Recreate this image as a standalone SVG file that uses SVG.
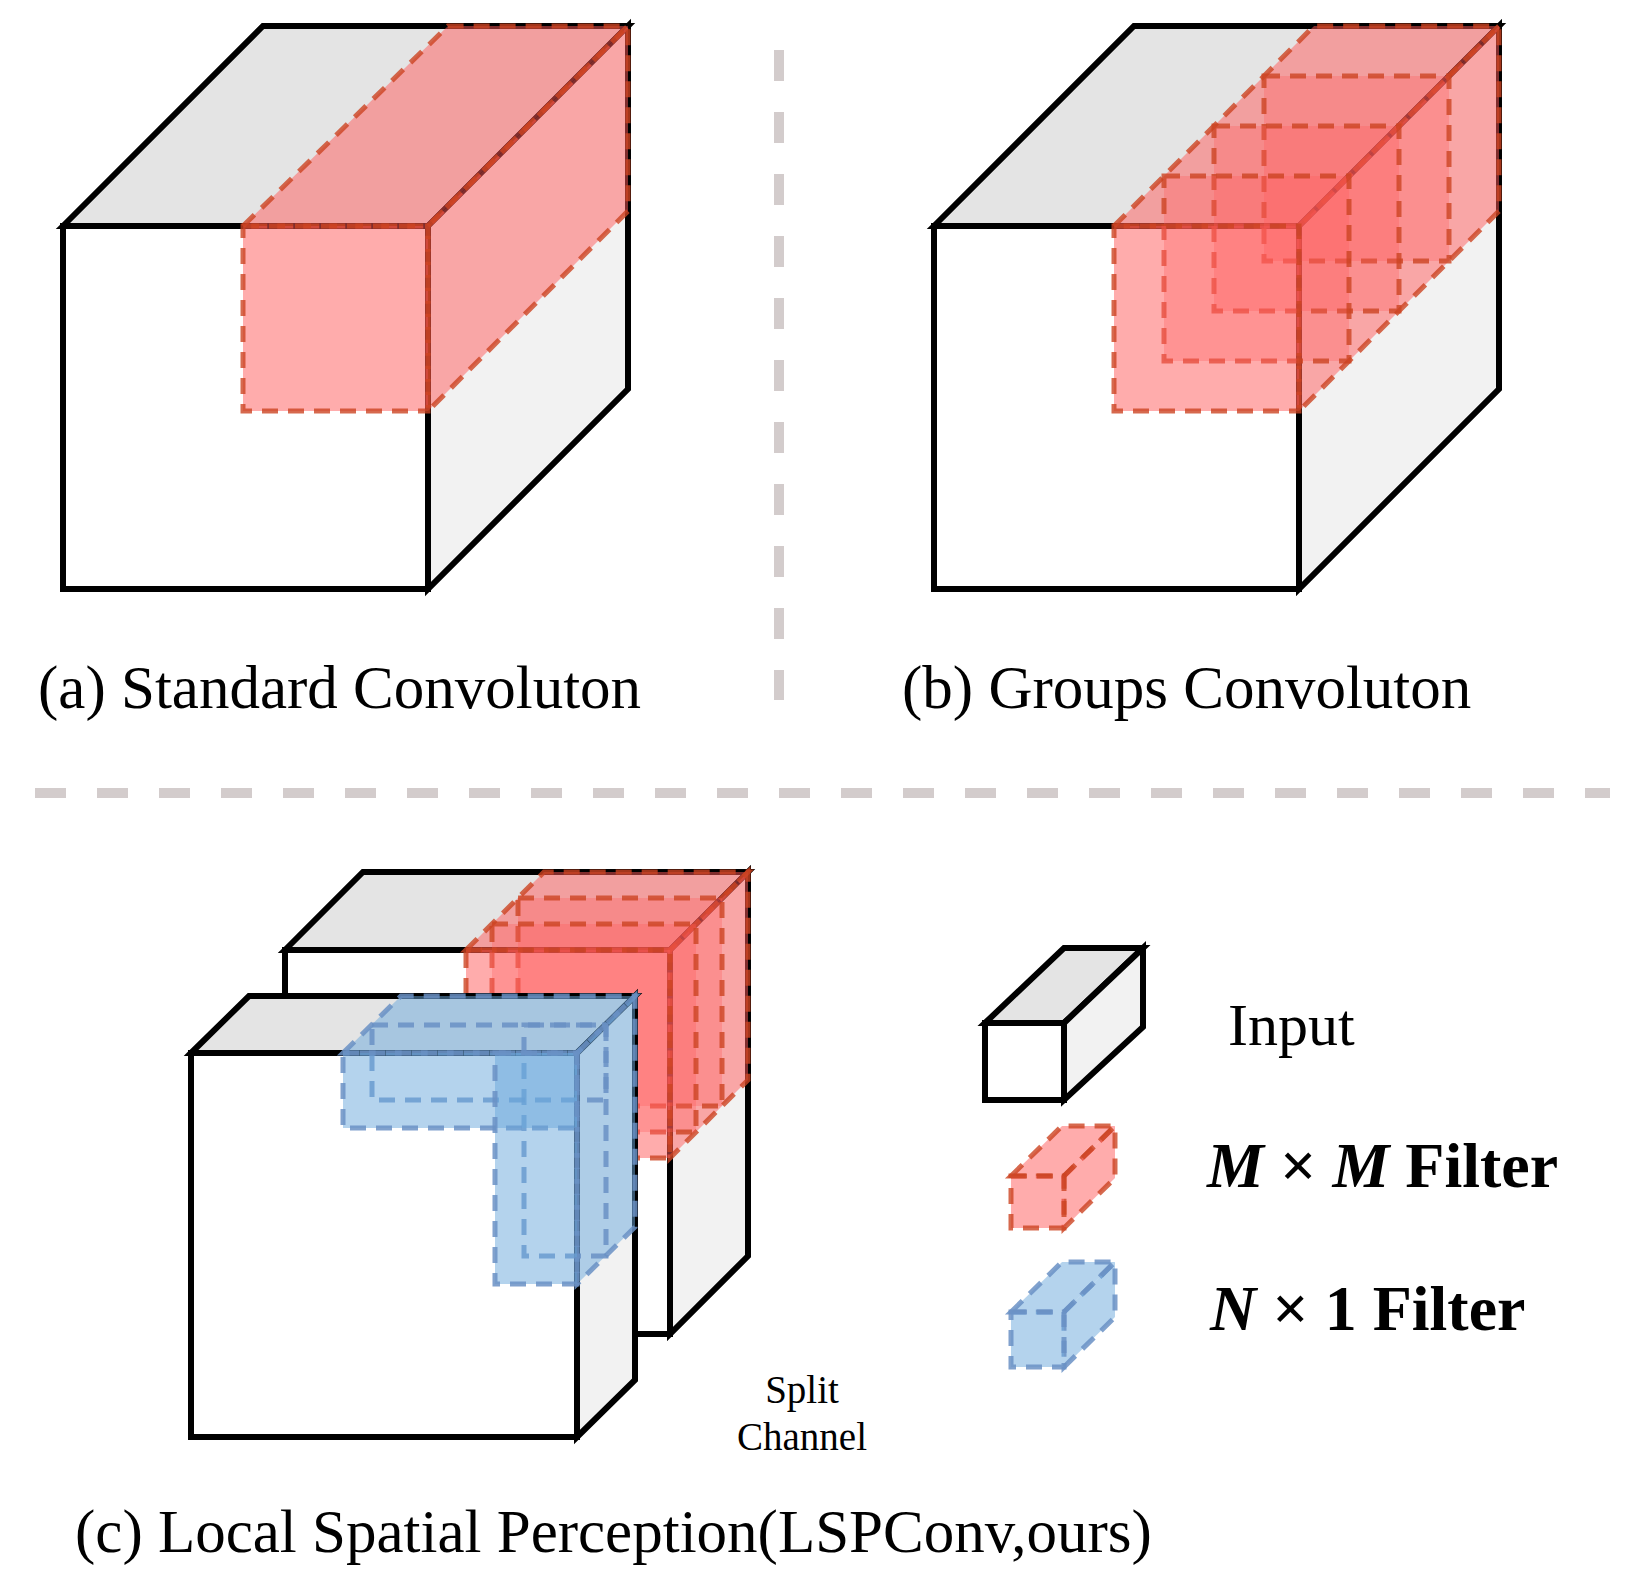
<svg xmlns="http://www.w3.org/2000/svg" width="1630" height="1593" viewBox="0 0 1630 1593">
<style>
.ck{stroke:#000;stroke-width:6;stroke-linejoin:miter}
.ft{fill:#fff}.tp{fill:#e4e4e4}.rt{fill:#f2f2f2}
.rd{fill:#ff5a5a;fill-opacity:.5;stroke:#cc4422;stroke-opacity:.8;stroke-width:5;stroke-dasharray:16 10}
.rd2{fill:#ff5a5a;fill-opacity:.3;stroke:#cc4422;stroke-opacity:.8;stroke-width:5;stroke-dasharray:16 10}
.bl{fill:#6aa8dc;fill-opacity:.5;stroke:#6a90c4;stroke-opacity:.85;stroke-width:5;stroke-dasharray:16 10}
.bll{fill:none;stroke:#6a90c4;stroke-opacity:.85;stroke-width:5;stroke-dasharray:16 10}
.dv{stroke:#d3cccc;stroke-width:10;stroke-dasharray:31 31}
.t{font-family:"Liberation Serif",serif;fill:#000}
</style>
<g id="dividers">
<line class="dv" x1="779" y1="50" x2="779" y2="700"/>
<line class="dv" x1="35" y1="793" x2="1610" y2="793"/>
</g>
<g id="cube-a">
<polygon class="ck tp" points="63,226 263,26 628,26 428,226"/>
<polygon class="ck rt" points="428,226 628,26 628,389 428,589"/>
<rect class="ck ft" x="63" y="226" width="365" height="363"/>
<polygon class="rd" points="243,226 448,26 628,26 428,226"/>
<polygon class="rd" points="428,226 628,26 628,211 428,411"/>
<rect class="rd" x="243" y="226" width="185" height="185"/>
<text class="t" x="38" y="708" font-size="61">(a) Standard Convoluton</text>
</g>
<g id="cube-b">
<polygon class="ck tp" points="934,226 1134,26 1499,26 1299,226"/>
<polygon class="ck rt" points="1299,226 1499,26 1499,389 1299,589"/>
<rect class="ck ft" x="934" y="226" width="365" height="363"/>
<polygon class="rd" points="1114,226 1314,26 1499,26 1299,226"/>
<polygon class="rd" points="1299,226 1499,26 1499,211 1299,411"/>
<rect class="rd2" x="1264" y="76" width="185" height="185"/>
<rect class="rd2" x="1214" y="126" width="185" height="185"/>
<rect class="rd2" x="1164" y="176" width="185" height="185"/>
<rect class="rd" x="1114" y="226" width="185" height="185"/>
<text class="t" x="902" y="708" font-size="61">(b) Groups Convoluton</text>
</g>
<g id="cube-c-back">
<polygon class="ck tp" points="285,950 363,872 748,872 670,950"/>
<polygon class="ck rt" points="670,950 748,872 748,1256 670,1334"/>
<rect class="ck ft" x="285" y="950" width="385" height="384"/>
</g>
<g id="filter-mm">
<polygon class="rd" points="466,950 544,872 748,872 670,950"/>
<polygon class="rd" points="670,950 748,872 748,1080 670,1158"/>
<rect class="rd2" x="518" y="898" width="204" height="208"/>
<rect class="rd2" x="492" y="924" width="204" height="208"/>
<rect class="rd" x="466" y="950" width="204" height="208"/>
</g>
<g id="cube-c-front">
<polygon class="ck tp" points="191,1053 249,996 635,996 577,1053"/>
<polygon class="ck rt" points="577,1053 635,996 635,1380 577,1437"/>
<rect class="ck ft" x="191" y="1053" width="386" height="384"/>
</g>
<g id="filter-n1">
<polygon class="bl" points="343,1053 401,996 635,996 577,1053"/>
<polygon class="bl" points="577,1053 635,996 635,1227 577,1284"/>
<rect class="bll" x="372" y="1025" width="234" height="75"/>
<rect class="bll" x="524" y="1025" width="82" height="231"/>
<rect class="bl" x="343" y="1053" width="234" height="75"/>
<rect class="bl" x="495" y="1053" width="82" height="231"/>
</g>
<text class="t" x="802" y="1403" font-size="39" text-anchor="middle">Split</text>
<text class="t" x="802" y="1450" font-size="39" text-anchor="middle">Channel</text>
<text class="t" x="75" y="1552" font-size="61">(c) Local Spatial Perception(LSPConv,ours)</text>
<g id="legend-input">
<polygon class="ck tp" points="985,1023 1064,948 1143,948 1064,1023"/>
<polygon class="ck rt" points="1064,1023 1143,948 1143,1027 1064,1100"/>
<rect class="ck ft" x="985" y="1023" width="79" height="77"/>
<text class="t" x="1228" y="1045" font-size="60">Input</text>
</g>
<g id="legend-mm">
<polygon class="rd" points="1011,1176 1062,1126 1115,1126 1064,1176"/>
<polygon class="rd" points="1064,1176 1115,1126 1115,1178 1064,1228"/>
<rect class="rd" x="1011" y="1176" width="53" height="52"/>
<text class="t" x="1207" y="1187" font-size="64" font-weight="bold"><tspan font-style="italic">M</tspan> × <tspan font-style="italic">M</tspan> Filter</text>
</g>
<g id="legend-n1">
<polygon class="bl" points="1011,1312 1062,1262 1115,1262 1064,1312"/>
<polygon class="bl" points="1064,1312 1115,1262 1115,1317 1064,1367"/>
<rect class="bl" x="1011" y="1312" width="53" height="55"/>
<text class="t" x="1210" y="1330" font-size="64" font-weight="bold"><tspan font-style="italic">N</tspan> × 1 Filter</text>
</g>
</svg>
